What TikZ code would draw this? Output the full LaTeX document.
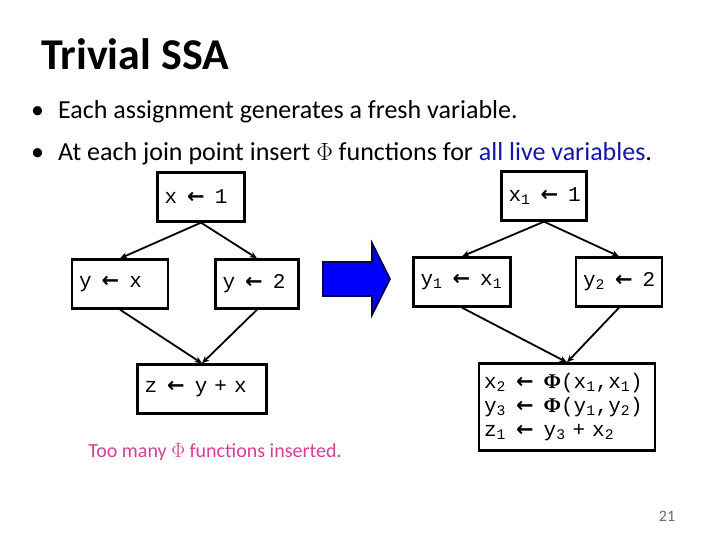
\documentclass[tikz,border=0pt]{standalone}
\usepackage{fontspec}
\setmainfont{Carlito}
\setmonofont{Liberation Mono}[WordSpace={1,0,0}]
\newfontfamily\arrowfont{DejaVu Sans}
\newfontfamily\symfont{Liberation Serif}
\usetikzlibrary{arrows.meta}
\definecolor{cblue}{RGB}{20,20,170}
\definecolor{cpink}{RGB}{214,62,150}
\definecolor{cnavy}{RGB}{0,0,80}
\definecolor{cgrey}{HTML}{6B6B6B}
\tikzset{
  blk/.style={draw, line width=2.3pt, inner xsep=7pt, inner ysep=0pt, align=left,
    minimum height=#1, font=\ttfamily\fontsize{21}{24}\selectfont},
  blk/.default=49pt,
  edge/.style={-{Stealth[length=2.6mm, width=2.2mm]}, line width=1.8pt},
  bullet/.style={anchor=base west, inner sep=0pt, font=\fontsize{26}{30}\selectfont},
}
\newcommand{\la}{\makebox[1.8em]{\arrowfont\bfseries ←}}
\newcommand{\vsub}[1]{\textsubscript{#1}}
\newcommand{\vphi}{{\symfont\bfseries Φ}}
\begin{document}
\begin{tikzpicture}[x=1pt, y=-1pt]
  \useasboundingbox (0,0) rectangle (720,540);
  % title and bullets
  \node[anchor=base west, inner sep=0pt, font=\bfseries\fontsize{44}{48}\selectfont] (title) at (41,70) {Trivial SSA};
  \node[bullet] (b1) at (31,119) {\makebox[27pt][l]{\textbullet}Each assignment generates a fresh variable.};
  \node[bullet] (b2) at (31,161) {\makebox[27pt][l]{\textbullet}At each join point insert $\Phi$ functions for \textcolor{cblue}{all live variables}.};
  % left: before
  \node[blk, text width=73pt] (lx) at (201,197) {x\la 1};
  \node[blk, text width=82pt] (ly1) at (120,284) {y\la x};
  \node[blk, text width=69pt] (ly2) at (257,284) {y\la 2};
  \node[blk, text width=115pt] (lz) at (202,389) {z\la y + x};
  \draw[edge] (lx.south) -- (ly1.north);
  \draw[edge] (lx.south) -- (ly2.north);
  \draw[edge] (ly1.south) -- (lz.north);
  \draw[edge] (ly2.south) -- (lz.north);
  \node[anchor=base, inner sep=0pt, text=cpink, font=\fontsize{20}{24}\selectfont] (note) at (215,457) {Too many $\Phi$ functions inserted.};
  % big arrow
  \draw[cnavy, fill=blue, line width=1.6pt, line join=miter]
    (323,262) -- (372,262) -- (372,243) -- (390,279) -- (372,315) -- (372,296) -- (323,296) -- cycle;
  % right: after
  \node[blk, text width=71pt] (rx) at (544,196) {x\vsub{1}\la 1};
  \node[blk, text width=83pt] (ry1) at (462,282) {y\vsub{1}\la x\vsub{1}};
  \node[blk, text width=72pt] (ry2) at (619,282) {y\vsub{2}\la 2};
  \node[blk=87pt, inner xsep=5pt, text width=166pt] (rz) at (567,407)
    {x\vsub{2}\la\vphi(x\vsub{1},x\vsub{1})\\
     y\vsub{3}\la\vphi(y\vsub{1},y\vsub{2})\\
     z\vsub{1}\la y\vsub{3} + x\vsub{2}};
  \draw[edge] (rx.south) -- (ry1.north);
  \draw[edge] (rx.south) -- (ry2.north);
  \draw[edge] (ry1.south) -- (rz.north);
  \draw[edge] (ry2.south) -- (rz.north);
  % page number
  \node[anchor=base, inner sep=0pt, text=cgrey, font=\fontsize{16}{19}\selectfont] (page) at (667,521) {21};
\end{tikzpicture}
\end{document}
